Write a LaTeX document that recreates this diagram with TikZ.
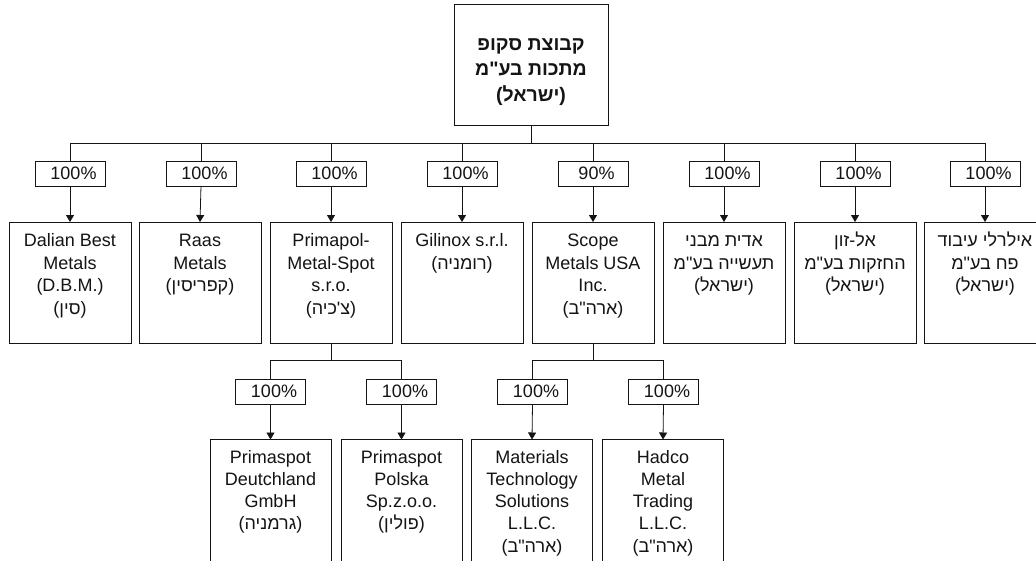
\documentclass[tikz,border=0pt]{standalone}
\usepackage{fontspec}
\setmainfont{Liberation Sans}
\newfontfamily\heb[Script=Hebrew]{Liberation Sans}
\TeXXeTstate=1
\usetikzlibrary{arrows.meta}
\newcommand{\hb}[1]{{\heb\beginR #1\endR}}
\newcommand{\cbody}[1]{\parbox[t][121pt][t]{122pt}{\centering\fontsize{18}{22.5}\selectfont\rule{0pt}{24.7pt}#1}}
\newcommand{\bbody}[1]{\parbox[t][150pt][t]{121pt}{\centering\fontsize{18}{22.3}\selectfont\rule{0pt}{23.5pt}#1}}
\newcommand{\tbody}[1]{\parbox[t][121pt][t]{154pt}{\centering\bfseries\fontsize{19.5}{25.5}\selectfont\rule{0pt}{46pt}#1}}
\newcommand{\pc}[1]{\hspace*{7pt}#1}
\definecolor{ink}{RGB}{20,20,20}
\tikzset{
  every node/.style={inner sep=0pt, outer sep=0pt, text=ink},
  boxline/.style={draw=ink, line width=0.8pt},
  cbox/.style={boxline, anchor=north},
  pct/.style={boxline, minimum width=70pt, minimum height=25pt, font=\fontsize{18}{20}\selectfont},
  conn/.style={draw=ink, line width=0.8pt},
  arr/.style={conn, -{Triangle[length=7pt,width=8pt]}}
}
\begin{document}
\begin{tikzpicture}[x=1pt,y=-1pt]
\useasboundingbox (0,0) rectangle (1036,560);
\clip (0,0) rectangle (1036,560);
\fill[white] (0,0) rectangle (1036,560);

% top company
\node[cbox] (top) at (531,4) {\tbody{\hb{קבוצת סקופ}\\\hb{מתכות בע"מ}\\(\hb{ישראל})}};
\coordinate (bus) at (531,143);
\draw[conn] (top.south) -- (bus);

% percentages, first level
\node[pct] (p1) at (70,173.5) {\pc{100\%}};
\node[pct] (p2) at (201,173.5) {\pc{100\%}};
\node[pct] (p3) at (331,173.5) {\pc{100\%}};
\node[pct] (p4) at (462,173.5) {\pc{100\%}};
\node[pct] (p5) at (593,173.5) {\pc{90\%}};
\node[pct] (p6) at (724,173.5) {\pc{100\%}};
\node[pct] (p7) at (855,173.5) {\pc{100\%}};
\node[pct] (p8) at (985,173.5) {\pc{100\%}};

% first level companies
\node[cbox] (c1) at (70,222) {\cbody{Dalian Best\\Metals\\(D.B.M.)\\(\hb{סין})}};
\node[cbox] (c2) at (200,222) {\cbody{Raas\\Metals\\(\hb{קפריסין})}};
\node[cbox] (c3) at (331,222) {\cbody{Primapol-\\Metal-Spot\\s.r.o.\\(\hb{צ'כיה})}};
\node[cbox] (c4) at (462,222) {\cbody{Gilinox s.r.l.\\(\hb{רומניה})}};
\node[cbox] (c5) at (593,222) {\cbody{Scope\\Metals USA\\Inc.\\(\hb{ארה"ב})}};
\node[cbox] (c6) at (724,222) {\cbody{\hb{אדית מבני}\\\hb{תעשייה בע"מ}\\(\hb{ישראל})}};
\node[cbox] (c7) at (855,222) {\cbody{\hb{אל-זון}\\\hb{החזקות בע"מ}\\(\hb{ישראל})}};
\node[cbox] (c8) at (985,222) {\cbody{\hb{אילרלי עיבוד}\\\hb{פח בע"מ}\\(\hb{ישראל})}};

\foreach \i in {1,...,8}{
  \draw[conn] (p\i.north) |- (bus);
  \draw[arr] (p\i.south) -- (c\i.north);
}

% second level under Primapol
\coordinate (busa) at (331,360);
\draw[conn] (c3.south) -- (busa);
\node[pct] (q1) at (270.5,391.5) {\pc{100\%}};
\node[pct] (q2) at (401.5,391.5) {\pc{100\%}};
\node[cbox] (b1) at (270.5,439.5) {\bbody{Primaspot\\Deutchland\\GmbH\\(\hb{גרמניה})}};
\node[cbox] (b2) at (401.5,439.5) {\bbody{Primaspot\\Polska\\Sp.z.o.o.\\(\hb{פולין})}};
\draw[conn] (q1.north) |- (busa);
\draw[conn] (q2.north) |- (busa);
\draw[arr] (q1.south) -- (b1.north);
\draw[arr] (q2.south) -- (b2.north);

% second level under Scope
\coordinate (busb) at (593,360);
\draw[conn] (c5.south) -- (busb);
\node[pct] (q3) at (532.5,391.5) {\pc{100\%}};
\node[pct] (q4) at (663.5,391.5) {\pc{100\%}};
\node[cbox] (b3) at (532,439.5) {\bbody{Materials\\Technology\\Solutions\\L.L.C.\\(\hb{ארה"ב})}};
\node[cbox] (b4) at (663,439.5) {\bbody{Hadco\\Metal\\Trading\\L.L.C.\\(\hb{ארה"ב})}};
\draw[conn] (q3.north) |- (busb);
\draw[conn] (q4.north) |- (busb);
\draw[arr] (q3.south) -- (b3.north);
\draw[arr] (q4.south) -- (b4.north);
\end{tikzpicture}
\end{document}
